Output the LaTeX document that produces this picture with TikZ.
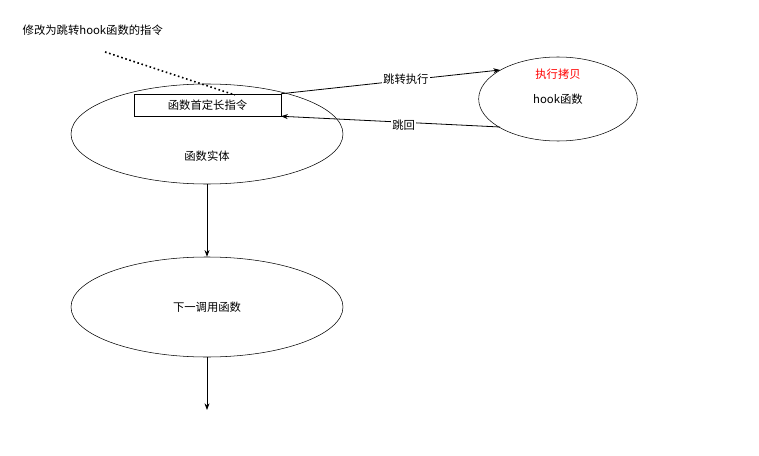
\documentclass[tikz,border=0pt]{standalone}
\usepackage{fontspec}
\setmainfont{Noto Sans CJK SC}
\usetikzlibrary{arrows.meta, shapes.geometric}

\begin{document}
\begin{tikzpicture}[x=0.75pt,y=-0.75pt,font=\fontsize{8.5}{10}\selectfont]
\useasboundingbox (0,0) rectangle (759,456);
\begin{scope}[every node/.style={ellipse,draw,inner sep=0pt}]
    \node (body) at (207,134) [minimum width=204pt,minimum height=75pt] {};
    \node (hook) at (558,99) [minimum width=119pt,minimum height=63pt] {};
    \node (next) at (207,307) [minimum width=204pt,minimum height=75pt] {下一调用函数};
\end{scope}
\node (instr) at (207.5,105) [draw,minimum width=110pt,minimum height=16.5pt,inner sep=0pt] {函数首定长指令};
\node (bodytext) at (207,156) {函数实体};
\node (copy) at (558,74) [text=red] {执行拷贝};
\node (hooktext) at (558,99) {hook函数};
\node (note) at (18,30) [anchor=west] {修改为跳转hook函数的指令};
\coordinate (noteend) at (105,52);
\coordinate (exit) at (207,410);

\begin{scope}[>={Stealth[black,length=5pt]}, semithick,
              every node/.style={fill=white,inner sep=1pt}]
    \draw [->] (body.south) -- (next.north);
    \draw [->] (next.south) -- (exit);
    \draw [->] (instr.north east) -- node[pos=0.57,yshift=1pt] {跳转执行} (500,70);
    \draw [->] (500,127) -- node[pos=0.44,yshift=-2pt] {跳回} (instr.south east);
    \draw [dotted,very thick] (noteend) -- (235,95);
\end{scope}
\end{tikzpicture}
\end{document}
